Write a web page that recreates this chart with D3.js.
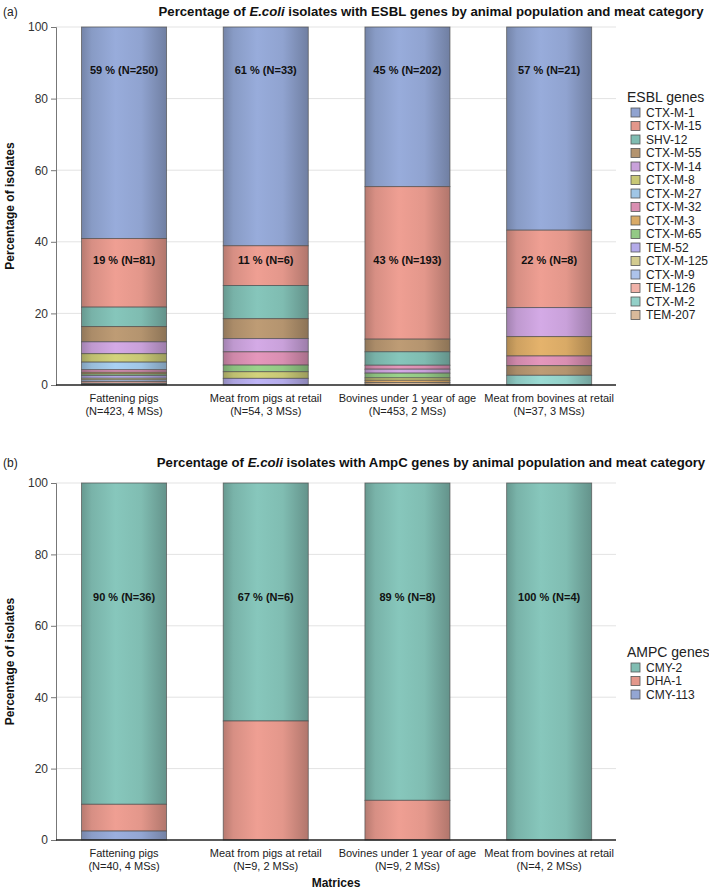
<!DOCTYPE html>
<html>
<head>
<meta charset="utf-8">
<script src="https://cdn.jsdelivr.net/npm/d3@7"></script>
<style>
  html, body { margin: 0; padding: 0; background: #fff; }
  svg { display: block; font-family: "Liberation Sans", Arial, sans-serif; }
</style>
</head>
<body>
<svg id="chart" width="709" height="890"></svg>
<script>
// ---------- DATA ----------
const categories = ["Fattening pigs", "Meat from pigs at retail", "Bovines under 1 year of age", "Meat from bovines at retail"];
const esblCategoryN = ["(N=423, 4 MSs)", "(N=54, 3 MSs)", "(N=453, 2 MSs)", "(N=37, 3 MSs)"];
const ampcCategoryN = ["(N=40, 4 MSs)", "(N=9, 2 MSs)", "(N=9, 2 MSs)", "(N=4, 2 MSs)"];
const esblTotals = [423, 54, 453, 37];
const ampcTotals = [40, 9, 9, 4];

const esblGenes = ["CTX-M-1", "CTX-M-15", "SHV-12", "CTX-M-55", "CTX-M-14", "CTX-M-8", "CTX-M-27", "CTX-M-32",
  "CTX-M-3", "CTX-M-65", "TEM-52", "CTX-M-125", "CTX-M-9", "TEM-126", "CTX-M-2", "TEM-207"];
const esblColors = ["#90a3d0", "#e3978b", "#7fbcb1", "#b4946f", "#c9a1da", "#c8c876", "#a0c6e6", "#d98fb2",
  "#d9aa66", "#93c985", "#b4abe9", "#d3cb8f", "#adc3ea", "#f0b2a9", "#93d0c8", "#d8b99a"];
const ampcGenes = ["CMY-2", "DHA-1", "CMY-113"];
const ampcColors = ["#80bdb2", "#e3978b", "#93a6d3"];

// isolate counts per category, listed from top of bar to bottom
const esblFatteningPigs = [["CTX-M-1", 250], ["CTX-M-15", 81], ["SHV-12", 23], ["CTX-M-55", 18], ["CTX-M-14", 14],
  ["CTX-M-8", 10], ["CTX-M-27", 9], ["CTX-M-32", 3], ["CTX-M-3", 2], ["CTX-M-65", 2], ["TEM-52", 3],
  ["CTX-M-125", 2], ["CTX-M-9", 2], ["TEM-126", 2], ["CTX-M-2", 1], ["TEM-207", 1]];
const esblMeatPigs = [["CTX-M-1", 33], ["CTX-M-15", 6], ["SHV-12", 5], ["CTX-M-55", 3], ["CTX-M-14", 2],
  ["CTX-M-32", 2], ["CTX-M-65", 1], ["CTX-M-8", 1], ["TEM-52", 1]];
const esblBovines = [["CTX-M-1", 202], ["CTX-M-15", 193], ["CTX-M-55", 16], ["SHV-12", 17], ["CTX-M-32", 5],
  ["CTX-M-14", 5], ["CTX-M-65", 6], ["CTX-M-8", 3], ["CTX-M-3", 3], ["TEM-207", 3]];
const esblMeatBovines = [["CTX-M-1", 21], ["CTX-M-15", 8], ["CTX-M-14", 3], ["CTX-M-3", 2], ["CTX-M-32", 1],
  ["CTX-M-55", 1], ["CTX-M-2", 1]];

const ampcFatteningPigs = [["CMY-2", 36], ["DHA-1", 3], ["CMY-113", 1]];
const ampcMeatPigs = [["CMY-2", 6], ["DHA-1", 3]];
const ampcBovines = [["CMY-2", 8], ["DHA-1", 1]];
const ampcMeatBovines = [["CMY-2", 4]];

const yTicks = [0, 20, 40, 60, 80, 100];

// ---------- DRAWING ----------
const svg = d3.select("#chart");
const defs = svg.append("defs");

function makeGradients(prefix, genes, colors) {
  genes.forEach((g, i) => {
    const c = colors[i];
    const grad = defs.append("linearGradient").attr("id", prefix + i)
      .attr("x1", "0%").attr("x2", "100%").attr("y1", "0%").attr("y2", "0%");
    grad.append("stop").attr("offset", "0%").attr("stop-color", d3.color(c).darker(0.6));
    grad.append("stop").attr("offset", "12%").attr("stop-color", d3.color(c).darker(0.15));
    grad.append("stop").attr("offset", "40%").attr("stop-color", d3.color(c).brighter(0.15));
    grad.append("stop").attr("offset", "70%").attr("stop-color", c);
    grad.append("stop").attr("offset", "100%").attr("stop-color", d3.color(c).darker(0.7));
  });
}
makeGradients("esbl", esblGenes, esblColors);
makeGradients("ampc", ampcGenes, ampcColors);

const x = d3.scaleBand().domain(categories).range([53.2, 620]).paddingInner(0.4).paddingOuter(0.2);
const axisLeft = 56, axisRight = 616;

function drawPanel(o) {
  const g = svg.append("g");
  const y = d3.scaleLinear().domain([0, 100]).range([o.bottom, o.top]);

  // panel letter and title
  g.append("text").attr("x", 3).attr("y", o.titleY).attr("font-size", 12).attr("fill", "#222").text(o.letter);
  const t = g.append("text").attr("x", 431).attr("y", o.titleY).attr("text-anchor", "middle")
    .attr("font-size", 13.2).attr("font-weight", "bold").attr("fill", "#111");
  t.append("tspan").text("Percentage of ");
  t.append("tspan").attr("font-style", "italic").text("E.coli");
  t.append("tspan").text(" isolates with " + o.kind + " genes by animal population and meat category");

  // gridlines
  g.selectAll(".grid").data(yTicks.filter(d => d > 0)).join("line")
    .attr("x1", axisLeft).attr("x2", axisRight)
    .attr("y1", d => y(d)).attr("y2", d => y(d))
    .attr("stroke", "#e3e3e3").attr("stroke-width", 1);

  // y axis
  const ya = g.append("g").attr("transform", `translate(${axisLeft},0)`)
    .call(d3.axisLeft(y).tickValues(yTicks).tickSize(5).tickPadding(3));
  ya.select(".domain").attr("stroke", "#777");
  ya.selectAll(".tick line").attr("stroke", "#777");
  ya.selectAll(".tick text").attr("font-size", 12).attr("fill", "#333")
    .attr("font-family", "Liberation Sans, Arial, sans-serif");

  g.append("text").attr("transform", `translate(14,${(o.top + o.bottom) / 2}) rotate(-90)`)
    .attr("text-anchor", "middle").attr("font-size", 12).attr("font-weight", "bold").attr("fill", "#111")
    .text("Percentage of isolates");

  // bars
  o.bars.forEach((segs, bi) => {
    const cat = categories[bi];
    const total = o.totals[bi];
    let cum = 100;
    segs.forEach(([gene, n], si) => {
      const pct = n / total * 100;
      const top = cum, bot = cum - pct;
      cum = bot;
      const gi = o.genes.indexOf(gene);
      g.append("rect")
        .attr("x", x(cat)).attr("width", x.bandwidth())
        .attr("y", y(top)).attr("height", y(bot) - y(top))
        .attr("fill", `url(#${o.prefix}${gi})`)
        .attr("stroke", "#4d4d4d").attr("stroke-opacity", 0.75).attr("stroke-width", 0.9);
      if (si < o.labelLevels.length) {
        g.append("text").attr("x", x(cat) + x.bandwidth() / 2).attr("y", y(o.labelLevels[si]) + 4)
          .attr("text-anchor", "middle").attr("font-size", 11).attr("font-weight", "bold").attr("fill", "#111")
          .text(`${Math.round(pct)} % (N=${n})`);
      }
    });
  });

  // x axis
  g.append("line").attr("x1", axisLeft).attr("x2", axisRight).attr("y1", o.bottom).attr("y2", o.bottom)
    .attr("stroke", "#222").attr("stroke-width", 1.5);
  categories.forEach((c, i) => {
    const cx = x(c) + x.bandwidth() / 2;
    g.append("text").attr("x", cx).attr("y", o.bottom + 17).attr("text-anchor", "middle")
      .attr("font-size", 11).attr("fill", "#222").text(c);
    g.append("text").attr("x", cx).attr("y", o.bottom + 30).attr("text-anchor", "middle")
      .attr("font-size", 11).attr("fill", "#222").text(o.catN[i]);
  });

  // legend
  const lg = g.append("g");
  lg.append("text").attr("x", 627).attr("y", o.legendTop).attr("font-size", 14).attr("fill", "#222").text(o.legendTitle);
  o.genes.forEach((gene, i) => {
    const cy = o.legendTop + 10.5 + i * 13.5;
    lg.append("rect").attr("x", 631).attr("y", cy - 4.5).attr("width", 9).attr("height", 9)
      .attr("fill", o.colors[i]).attr("stroke", "#555").attr("stroke-width", 0.8);
    lg.append("text").attr("x", 646).attr("y", cy + 4.3).attr("font-size", 12).attr("fill", "#222").text(gene);
  });
}

drawPanel({
  letter: "(a)", kind: "ESBL", titleY: 16, top: 27, bottom: 385,
  bars: [esblFatteningPigs, esblMeatPigs, esblBovines, esblMeatBovines],
  totals: esblTotals, genes: esblGenes, colors: esblColors, prefix: "esbl",
  labelLevels: [88, 35], catN: esblCategoryN, legendTitle: "ESBL genes", legendTop: 102
});
drawPanel({
  letter: "(b)", kind: "AmpC", titleY: 467, top: 483, bottom: 840,
  bars: [ampcFatteningPigs, ampcMeatPigs, ampcBovines, ampcMeatBovines],
  totals: ampcTotals, genes: ampcGenes, colors: ampcColors, prefix: "ampc",
  labelLevels: [68], catN: ampcCategoryN, legendTitle: "AMPC genes", legendTop: 657
});

svg.append("text").attr("x", (axisLeft + axisRight) / 2).attr("y", 887).attr("text-anchor", "middle")
  .attr("font-size", 12).attr("font-weight", "bold").attr("fill", "#111").text("Matrices");
</script>
</body>
</html>
